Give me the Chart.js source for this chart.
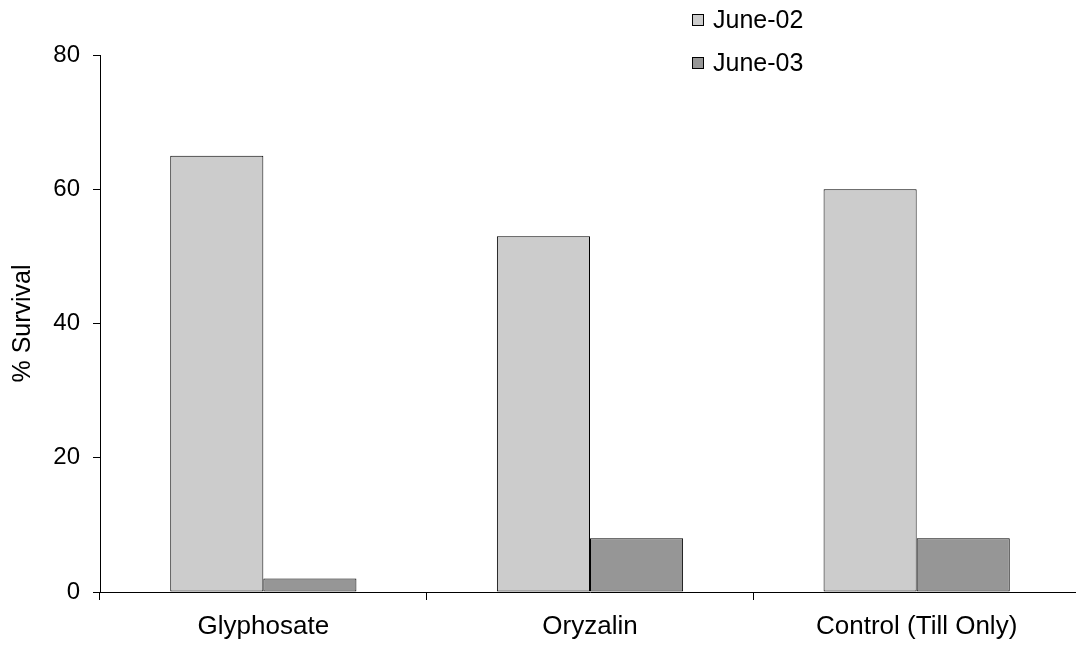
<!DOCTYPE html>
<html lang="en">
  <head>
    <meta charset="UTF-8" />
    <title>% Survival by treatment</title>
    <style>
      html, body {
        margin: 0;
        padding: 0;
        overflow: hidden;
        background: #ffffff;
      }
      .wrap {
        width: 1080px;
        height: 646px;
      }
    </style>
    <script src="https://cdn.jsdelivr.net/npm/chart.js"></script>
  </head>
  <body>
    <div class="wrap"><canvas id="survivalChart"></canvas></div>

    <script>
      const categories = ["Glyphosate", "Oryzalin", "Control (Till Only)"];
      const june02 = [65, 53, 60];
      const june03 = [2, 8, 8];
      const seriesLabels = ["June-02", "June-03"];
      const yTicks = [0, 20, 40, 60, 80];

      const FONT = "Arial, 'Liberation Sans', sans-serif";

      // small legend drawn on the canvas, stacked at the top right
      const sideLegend = {
        id: "sideLegend",
        afterDraw(chart) {
          const ctx = chart.ctx;
          ctx.save();
          ctx.font = "25px " + FONT;
          ctx.textBaseline = "middle";
          chart.data.datasets.forEach((ds, i) => {
            const y = 20 + i * 43;
            ctx.fillStyle = ds.backgroundColor;
            ctx.fillRect(692, y - 6, 12, 12);
            ctx.strokeStyle = "#000000";
            ctx.lineWidth = 1;
            ctx.strokeRect(692.5, y - 5.5, 11, 11);
            ctx.fillStyle = "#000000";
            ctx.fillText(ds.label, 713, y + 1);
          });
          ctx.restore();
        },
      };

      new Chart(document.getElementById("survivalChart").getContext("2d"), {
        type: "bar",
        data: {
          labels: categories,
          datasets: [
            {
              label: seriesLabels[0],
              data: june02,
              backgroundColor: "#cccccc",
              borderColor: "#000000",
              borderWidth: 1,
              borderSkipped: false,
            },
            {
              label: seriesLabels[1],
              data: june03,
              backgroundColor: "#969696",
              borderColor: "#000000",
              borderWidth: 1,
              borderSkipped: false,
            },
          ],
        },
        options: {
          responsive: true,
          maintainAspectRatio: false,
          animation: false,
          layout: { padding: { top: 55, right: 0, bottom: 0, left: 0 } },
          datasets: {
            bar: { barPercentage: 1.0, categoryPercentage: 0.57 },
          },
          plugins: {
            legend: { display: false },
            tooltip: { enabled: false },
          },
          scales: {
            x: {
              grid: {
                offset: true,
                drawOnChartArea: false,
                drawTicks: true,
                tickLength: 8,
                color: "#000000",
              },
              border: { display: true, color: "#000000", width: 1 },
              ticks: {
                color: "#000000",
                padding: 11,
                font: { family: FONT, size: 26 },
                maxRotation: 0,
              },
              afterFit(scale) {
                scale.height = 54;
              },
            },
            y: {
              min: 0,
              max: 80,
              afterBuildTicks(scale) {
                scale.ticks = yTicks.map((v) => ({ value: v }));
              },
              grid: {
                drawOnChartArea: false,
                drawTicks: true,
                tickLength: 7,
                color: "#000000",
              },
              border: { display: true, color: "#000000", width: 1 },
              ticks: {
                color: "#000000",
                padding: 13,
                font: { family: FONT, size: 24 },
              },
              title: {
                display: true,
                text: "% Survival",
                color: "#000000",
                font: { family: FONT, size: 25 },
                padding: { top: 8, bottom: 0 },
              },
              afterFit(scale) {
                scale.width = 100;
              },
            },
          },
        },
        plugins: [sideLegend],
      });
    </script>
  </body>
</html>
